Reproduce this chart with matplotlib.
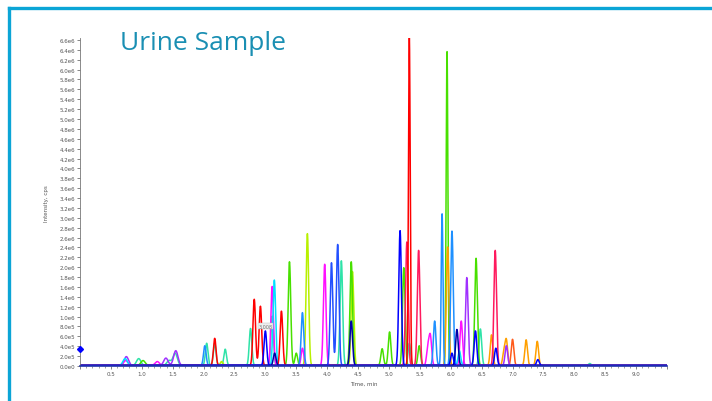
import numpy as np
import matplotlib
matplotlib.use("Agg")
import matplotlib.pyplot as plt
from matplotlib.lines import Line2D
from matplotlib.ticker import MultipleLocator, FuncFormatter

# ---- data (retention time in min, peak intensity in 1e6 cps) ----
red_t = [2.18, 2.82, 2.92, 3.26, 5.33]
red_h = [0.55, 1.34, 1.20, 1.10, 6.63]
crimson_t = [5.29, 5.48, 6.72]
crimson_h = [2.50, 2.33, 2.33]
green_t = [1.02, 3.39, 3.50, 4.39, 4.89, 5.01, 5.24, 5.49, 5.94, 6.41]
green_h = [0.10, 2.10, 0.25, 2.10, 0.34, 0.68, 1.98, 0.40, 6.36, 2.17]
yellowgreen_t = [2.29, 3.68, 4.41]
yellowgreen_h = [0.08, 2.67, 1.90]
orange_t = [5.95, 6.66, 6.86, 6.90, 7.22, 7.40]
orange_h = [2.40, 0.62, 0.25, 0.50, 0.52, 0.49]
orangered_t = [7.00]
orangered_h = [0.53]
magenta_t = [0.74, 1.25, 3.11, 3.60, 3.96, 5.63, 5.67, 6.17]
magenta_h = [0.10, 0.08, 1.60, 0.35, 2.05, 0.35, 0.58, 0.90]
purple_t = [0.75, 1.39, 1.55, 6.26, 6.90]
purple_h = [0.18, 0.15, 0.30, 1.78, 0.40]
teal_t = [0.95, 1.44, 1.54, 2.05, 2.18, 2.35, 2.76, 3.11, 4.23, 5.33, 6.48, 8.25]
teal_h = [0.14, 0.10, 0.25, 0.45, 0.45, 0.33, 0.75, 1.00, 2.12, 0.45, 0.74, 0.04]
cyan_t = [0.73, 3.145, 6.14]
cyan_h = [0.14, 1.73, 0.30]
dodger_t = [2.02, 3.60, 5.74, 5.86, 6.02]
dodger_h = [0.40, 1.07, 0.90, 3.07, 2.72]
royal_t = [4.07, 4.17]
royal_h = [2.08, 2.45]
darkblue_t = [3.15, 4.39, 6.10]
darkblue_h = [0.25, 0.90, 0.73]
blue_t = [3.00, 5.18, 6.02, 6.40, 6.73, 7.41]
blue_h = [0.70, 2.73, 0.25, 0.70, 0.35, 0.12]

series = [
    (teal_t, teal_h, '#2fe3a8'),
    (yellowgreen_t, yellowgreen_h, '#b8f000'),
    (green_t, green_h, '#48e000'),
    (orange_t, orange_h, '#ffa000'),
    (orangered_t, orangered_h, '#ff5a1a'),
    (purple_t, purple_h, '#a030ff'),
    (magenta_t, magenta_h, '#ff10ff'),
    (cyan_t, cyan_h, '#00e0ff'),
    (dodger_t, dodger_h, '#1e90ff'),
    (crimson_t, crimson_h, '#ff1a5e'),
    (red_t, red_h, '#ff0000'),
    (royal_t, royal_h, '#2250ff'),
    (darkblue_t, darkblue_h, '#0000a8'),
    (blue_t, blue_h, '#0000ff'),
]

yticks = np.arange(0, 6.61, 0.2)

fig = plt.figure(figsize=(7.12, 4.02), dpi=100)
ax = fig.add_axes([80/712, 35/402, 587/712, 328.5/402])

t = np.linspace(0, 9.5, 8000)
for times, heights, col in series:
    y = np.zeros_like(t)
    for c, h in zip(times, heights):
        s = 0.035 if c < 2.0 else (0.014 if h > 3 else 0.021)
        y += h * 1e6 * np.exp(-0.5 * ((t - c) / s) ** 2)
    y += 0.01e6
    ax.plot(t, y, color=col, lw=1.1, solid_joinstyle='round')

ax.plot([0.0], [0.35e6], marker='D', color='#0000ff', ms=3, clip_on=False, zorder=5)

ax.set_xlim(0, 9.5)
ax.set_ylim(0, 6.65e6)
for s in ['top', 'right']:
    ax.spines[s].set_visible(False)
ax.spines['left'].set_color('#777777')
ax.spines['left'].set_linewidth(0.6)
ax.spines['bottom'].set_color('#2233aa')
ax.spines['bottom'].set_linewidth(1.2)

ax.xaxis.set_major_locator(MultipleLocator(0.5))
ax.xaxis.set_minor_locator(MultipleLocator(0.1))
ax.set_yticks(yticks * 1e6)

def yfmt(v, pos):
    if v == 0:
        return '0.0e0'
    if v < 0.99e6:
        return f'{v/1e5:.1f}e5'
    return f'{v/1e6:.1f}e6'

def xfmt(v, pos):
    if abs(v) < 1e-9 or v > 9.2:
        return ''
    return f'{v:.1f}'

ax.yaxis.set_major_formatter(FuncFormatter(yfmt))
ax.xaxis.set_major_formatter(FuncFormatter(xfmt))
ax.tick_params(axis='both', labelsize=4, colors='#555555', length=2, width=0.5, pad=1.5)
ax.tick_params(axis='x', which='minor', length=1.2, width=0.4, colors='#555555')

ax.text(4.6, -0.3e6, 'Time, min', fontsize=4, color='#555555', ha='center', va='top')
ax.text(-0.55, 3.3e6, 'Intensity, cps', fontsize=4, color='#555555', rotation=90,
        ha='center', va='center')

ax.text(3.0, 0.8e6, '3.008', fontsize=3.5, color='#777777', ha='center', va='center',
        bbox=dict(boxstyle='square,pad=0.1', fc='#eeeeee', ec='#bbbbbb', lw=0.3))

fig.text(120/712, 1 - 43/402, 'Urine Sample', fontsize=19, color='#1a8fb3',
         family=['Open Sans', 'DejaVu Sans'], ha='left', va='center')

# frame
fig.add_artist(Line2D([9/712, 9/712], [0, 1 - 9/402], color='#0ba5d6', lw=2.4,
                      transform=fig.transFigure, solid_capstyle='projecting'))
fig.add_artist(Line2D([9/712, 1], [1 - 9/402, 1 - 9/402], color='#0ba5d6', lw=2.4,
                      transform=fig.transFigure, solid_capstyle='projecting'))

fig.savefig('out.png', dpi=100)
